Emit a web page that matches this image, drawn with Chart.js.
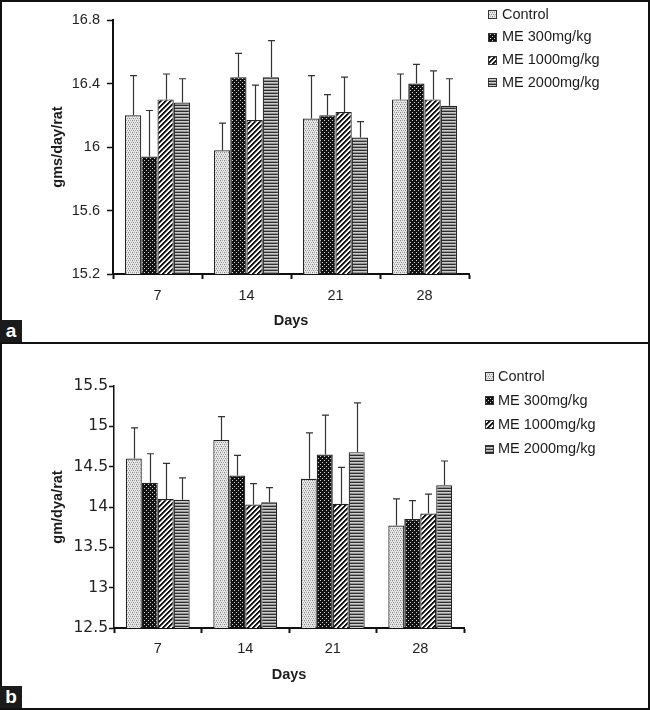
<!DOCTYPE html>
<html>
<head>
<meta charset="utf-8">
<script src="https://cdn.jsdelivr.net/npm/chart.js@4.4.1/dist/chart.umd.min.js"></script>
<style>
html, body { margin: 0; padding: 0; background: #fff; }
#frame { position: relative; width: 650px; height: 710px; overflow: hidden; background: #fff; }
.panel { position: absolute; left: 0; width: 650px; }
.line { position: absolute; background: #111; }
.tag { position: absolute; left: 0; width: 22px; background: #1b1b1b; color: #fff;
       font: bold 19px "Liberation Sans", Arial, sans-serif; text-align: center; }
</style>
</head>
<body>
<div id="frame">
  <div class="panel" style="top:0;height:342px"><canvas id="ca" width="650" height="342"></canvas></div>
  <div class="panel" style="top:344px;height:364px"><canvas id="cb" width="650" height="364"></canvas></div>
  <div class="line" style="left:0;top:0;width:650px;height:2px"></div>
  <div class="line" style="left:0;top:0;width:2px;height:710px"></div>
  <div class="line" style="left:648px;top:0;width:2px;height:710px"></div>
  <div class="line" style="left:0;top:708px;width:650px;height:2px"></div>
  <div class="line" style="left:0;top:342px;width:650px;height:2px"></div>
  <div class="tag" style="top:320px;height:22px;line-height:22px">a</div>
  <div class="tag" style="top:686px;height:22px;line-height:22px">b</div>
</div>
<script>
// ---------- data ----------
const days = ['7', '14', '21', '28'];
const seriesNames = ['Control', 'ME 300mg/kg', 'ME 1000mg/kg', 'ME 2000mg/kg'];

// Panel a : gms/day/rat
const controlA = [16.20, 15.98, 16.18, 16.30];
const me300A   = [15.94, 16.44, 16.20, 16.40];
const me1000A  = [16.30, 16.17, 16.22, 16.30];
const me2000A  = [16.28, 16.44, 16.06, 16.26];
const controlErrA = [0.25, 0.17, 0.27, 0.16];
const me300ErrA   = [0.29, 0.15, 0.13, 0.12];
const me1000ErrA  = [0.16, 0.22, 0.22, 0.18];
const me2000ErrA  = [0.15, 0.23, 0.10, 0.17];
const yTickLabelsA = ['15.2', '15.6', '16', '16.4', '16.8'];

// Panel b : gm/dya/rat
const controlB = [14.60, 14.83, 14.35, 13.77];
const me300B   = [14.30, 14.39, 14.65, 13.85];
const me1000B  = [14.10, 14.03, 14.04, 13.92];
const me2000B  = [14.09, 14.06, 14.68, 14.27];
const controlErrB = [0.38, 0.29, 0.57, 0.33];
const me300ErrB   = [0.36, 0.25, 0.49, 0.23];
const me1000ErrB  = [0.44, 0.26, 0.45, 0.24];
const me2000ErrB  = [0.27, 0.18, 0.61, 0.30];
const yTickLabelsB = ['12.5', '13', '13.5', '14', '14.5', '15', '15.5'];

// ---------- patterns ----------
function tile(w, h, painter) {
  const c = document.createElement('canvas');
  c.width = w; c.height = h;
  const g = c.getContext('2d');
  painter(g, w, h);
  return g.createPattern(c, 'repeat');
}
function px(g, x, y, col) { g.fillStyle = col; g.fillRect(x, y, 1, 1); }
const patControl = tile(4, 4, (g) => {
  g.fillStyle = '#e9e9e9'; g.fillRect(0, 0, 4, 4);
  px(g, 0, 0, '#858585'); px(g, 2, 0, '#a5a5a5'); px(g, 1, 2, '#858585'); px(g, 3, 2, '#a5a5a5');
  px(g, 0, 1, '#cfcfcf'); px(g, 2, 3, '#cfcfcf');
});
const patME300 = tile(4, 4, (g) => {
  g.fillStyle = '#121212'; g.fillRect(0, 0, 4, 4);
  px(g, 0, 0, '#d5d5d5'); px(g, 2, 2, '#d5d5d5');
});
const patME1000 = tile(5, 5, (g) => {
  for (let x = 0; x < 5; x++) for (let y = 0; y < 5; y++) {
    const k = (x + y) % 5;
    px(g, x, y, k < 2 ? '#121212' : (k === 2 ? '#777777' : '#f7f7f7'));
  }
});
const patME2000 = tile(1, 3, (g) => {
  px(g, 0, 0, '#2e2e2e'); px(g, 0, 1, '#cccccc'); px(g, 0, 2, '#939393');
});
const patterns = [patControl, patME300, patME1000, patME2000];

// ---------- plugins ----------
const FONT = '"Liberation Sans", Arial, sans-serif';
const errorBars = {
  id: 'errorBars',
  afterDatasetsDraw(chart) {
    const ctx = chart.ctx, yScale = chart.scales.y;
    ctx.save();
    ctx.strokeStyle = '#333';
    ctx.lineWidth = 1.2;
    chart.data.datasets.forEach((ds, i) => {
      chart.getDatasetMeta(i).data.forEach((bar, j) => {
        const top = yScale.getPixelForValue(ds.data[j] + ds.errors[j]);
        const x = Math.round(bar.x) + 0.5;
        ctx.beginPath();
        ctx.moveTo(x, bar.y); ctx.lineTo(x, top);
        ctx.moveTo(x - 3.5, top); ctx.lineTo(x + 3.5, top);
        ctx.stroke();
      });
    });
    ctx.restore();
  }
};
const sideLegend = {
  id: 'sideLegend',
  afterDraw(chart, args, o) {
    const ctx = chart.ctx;
    ctx.save();
    ctx.font = '14.5px ' + FONT;
    ctx.textBaseline = 'middle';
    ctx.textAlign = 'left';
    chart.data.datasets.forEach((ds, i) => {
      const y = o.y + i * o.spacing;
      const s = o.box;
      ctx.fillStyle = ds.backgroundColor;
      ctx.fillRect(o.x, Math.round(y - s / 2), s, s);
      ctx.strokeStyle = '#333'; ctx.lineWidth = 1;
      ctx.strokeRect(o.x + 0.5, Math.round(y - s / 2) + 0.5, s - 1, s - 1);
      ctx.fillStyle = '#1c1c1c';
      ctx.fillText(ds.label, o.textX, y);
    });
    ctx.restore();
  }
};

function buildDatasets(values, errors) {
  return values.map((v, i) => ({
    label: seriesNames[i],
    data: v,
    errors: errors[i],
    backgroundColor: patterns[i],
    borderColor: '#222',
    borderWidth: 1.2,
    categoryPercentage: 0.73,
    barPercentage: 1.0
  }));
}

function makeChart(id, cfg) {
  return new Chart(document.getElementById(id), {
    type: 'bar',
    data: { labels: days, datasets: buildDatasets(cfg.values, cfg.errors) },
    options: {
      responsive: false,
      animation: false,
      layout: { padding: { left: 0, right: cfg.padRight, top: cfg.padTop, bottom: 0 } },
      plugins: {
        legend: { display: false },
        tooltip: { enabled: false },
        sideLegend: cfg.legend
      },
      scales: {
        x: {
          grid: { drawOnChartArea: false, drawTicks: true, tickLength: 5, tickColor: '#111', tickWidth: 2, offset: true },
          border: { display: true, color: '#111', width: 2 },
          ticks: { color: '#222', font: { family: FONT, size: 14.5 }, padding: cfg.xTickPad },
          title: { display: true, text: 'Days', color: '#1c1c1c',
                   font: { family: FONT, size: 14.5, weight: 'bold' },
                   padding: { top: 0, bottom: cfg.xTitlePad } },
          afterFit: (s) => { s.height = cfg.xHeight; }
        },
        y: {
          min: Number(cfg.yTicks[0]),
          max: Number(cfg.yTicks[cfg.yTicks.length - 1]),
          afterBuildTicks: (s) => { s.ticks = cfg.yTicks.map(t => ({ value: Number(t) })); },
          grid: { drawOnChartArea: false, drawTicks: true, tickLength: cfg.yTickLen, tickColor: '#111', tickWidth: 1.5 },
          border: { display: true, color: '#111', width: cfg.yBorder },
          ticks: { color: '#222', font: cfg.yTickFont, padding: cfg.yTickPad,
                   callback: (v, i) => cfg.yTicks[i] },
          title: { display: true, text: cfg.yTitle, color: '#1c1c1c',
                   font: { family: FONT, size: 14.5, weight: 'bold' },
                   padding: { top: 49, bottom: 0 } },
          afterFit: (s) => { s.width = cfg.yWidth; }
        }
      }
    },
    plugins: [errorBars, sideLegend]
  });
}

makeChart('ca', {
  values: [controlA, me300A, me1000A, me2000A],
  errors: [controlErrA, me300ErrA, me1000ErrA, me2000ErrA],
  yTicks: yTickLabelsA,
  yTitle: 'gms/day/rat',
  yWidth: 113, padRight: 181, padTop: 20, xHeight: 68,
  xTickPad: 8, xTitlePad: 12.6, yTickLen: 6, yTickPad: 7, yBorder: 2,
  yTickFont: { family: FONT, size: 14.5 },
  legend: { x: 488, textX: 502, y: 14.5, spacing: 22.8, box: 9 }
});

makeChart('cb', {
  values: [controlB, me300B, me1000B, me2000B],
  errors: [controlErrB, me300ErrB, me1000ErrB, me2000ErrB],
  yTicks: yTickLabelsB,
  yTitle: 'gm/dya/rat',
  yWidth: 114, padRight: 186, padTop: 42, xHeight: 80,
  xTickPad: 7.5, xTitlePad: 24.6, yTickLen: 5, yTickPad: 1, yBorder: 1.5,
  yTickFont: { family: '"DejaVu Sans", sans-serif', size: 15.5 },
  legend: { x: 485, textX: 498, y: 32.5, spacing: 24.2, box: 9 }
});
</script>
</body>
</html>
